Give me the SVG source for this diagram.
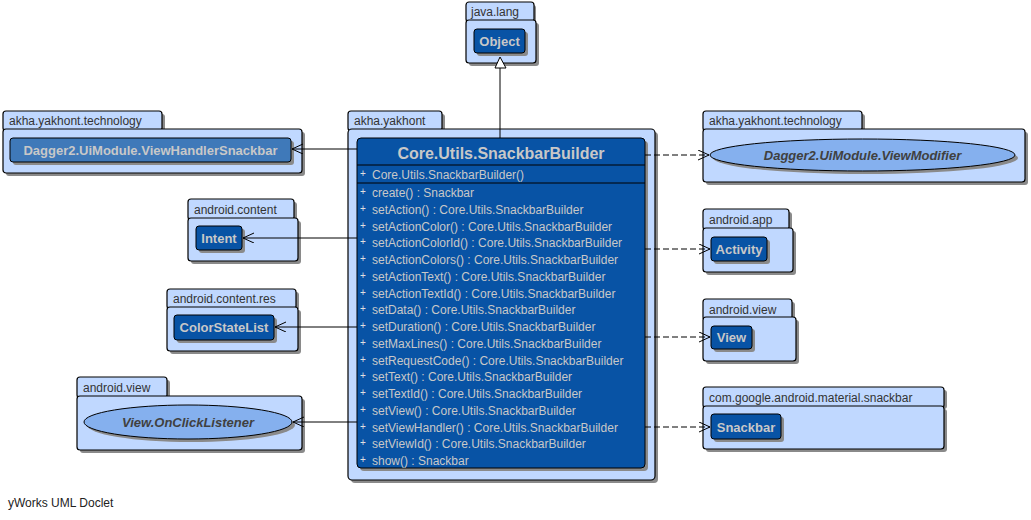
<svg xmlns="http://www.w3.org/2000/svg" width="1031" height="520" viewBox="0 0 1031 520">
<style>
text{font-family:"Liberation Sans",Arial,sans-serif}
.pk{fill:#c0d8ff;stroke:#000;stroke-width:1.2}
.sh{fill:#8a8a8a}
.pl{font-size:12px;fill:#333}
.cl{fill:#0853a5;stroke:#000;stroke-width:1}
.cl2{fill:#3f79b9;stroke:#000;stroke-width:1}
.cn{font-size:13px;font-weight:bold;fill:#c8c8c8;text-anchor:middle}
.el{fill:#85b0ee;stroke:#000;stroke-width:1}
.en{font-size:13px;font-weight:bold;font-style:italic;fill:#404040;text-anchor:middle}
.m{font-size:12px;fill:#c8c8c8}
.p{font-size:10px;fill:#e0e0e0}
.ln{stroke:#000;stroke-width:1;fill:none}
.ds{stroke:#000;stroke-width:1;fill:none;stroke-dasharray:6,3}
</style>
<defs>
<marker id="open" markerUnits="userSpaceOnUse" markerWidth="14" markerHeight="12" refX="11" refY="5" orient="auto">
<path d="M0,0 L11,5 L0,10" fill="none" stroke="#000" stroke-width="1"/>
</marker>
</defs>

<!-- java.lang -->
<g id="pkg-java-lang">
<rect class="sh" x="469" y="5" width="67" height="18" rx="3"/>
<rect class="sh" x="469" y="23" width="70" height="43" rx="3"/>
<rect class="pk" x="466" y="2" width="68" height="20" rx="3"/>
<rect class="pk" x="466" y="20" width="70" height="43" rx="3"/>
<text class="pl" x="471" y="16">java.lang</text>
<g id="node-object">
<rect class="sh" x="477" y="32" width="51" height="24" rx="3"/>
<rect class="cl" x="474" y="29" width="51" height="24" rx="3"/>
<text class="cn" x="499.5" y="46">Object</text>
</g>
</g>

<!-- akha.yakhont.technology (left) -->
<g id="pkg-tech-left">
<rect class="sh" x="6" y="114" width="159" height="18" rx="3"/>
<rect class="sh" x="6" y="132" width="299" height="44" rx="3"/>
<rect class="pk" x="3" y="111" width="159" height="20" rx="3"/>
<rect class="pk" x="3" y="129" width="299" height="44" rx="3"/>
<text class="pl" x="9" y="125">akha.yakhont.technology</text>
<g id="node-viewhandlersnackbar">
<rect class="sh" x="13" y="141" width="281" height="24" rx="3"/>
<rect class="cl2" x="10" y="138" width="281" height="24" rx="3"/>
<text class="cn" x="150.5" y="155">Dagger2.UiModule.ViewHandlerSnackbar</text>
</g>
</g>

<!-- android.content -->
<g id="pkg-android-content">
<rect class="sh" x="191" y="202" width="106" height="19" rx="3"/>
<rect class="sh" x="191" y="221" width="110" height="43" rx="3"/>
<rect class="pk" x="188" y="199" width="106" height="21" rx="3"/>
<rect class="pk" x="188" y="218" width="110" height="43" rx="3"/>
<text class="pl" x="194" y="214">android.content</text>
<g id="node-intent">
<rect class="sh" x="199" y="229" width="46" height="24" rx="3"/>
<rect class="cl" x="196" y="226" width="46" height="24" rx="3"/>
<text class="cn" x="219" y="243">Intent</text>
</g>
</g>

<!-- android.content.res -->
<g id="pkg-android-content-res">
<rect class="sh" x="170" y="292" width="129" height="18" rx="3"/>
<rect class="sh" x="170" y="310" width="131" height="44" rx="3"/>
<rect class="pk" x="167" y="289" width="129" height="20" rx="3"/>
<rect class="pk" x="167" y="307" width="131" height="44" rx="3"/>
<text class="pl" x="173" y="303">android.content.res</text>
<g id="node-colorstatelist">
<rect class="sh" x="177" y="318" width="100" height="25" rx="3"/>
<rect class="cl" x="174" y="315" width="100" height="25" rx="3"/>
<text class="cn" x="224" y="332">ColorStateList</text>
</g>
</g>

<!-- android.view (left) -->
<g id="pkg-android-view-left">
<rect class="sh" x="80" y="380" width="90" height="19" rx="3"/>
<rect class="sh" x="80" y="399" width="225" height="54" rx="3"/>
<rect class="pk" x="77" y="377" width="90" height="21" rx="3"/>
<rect class="pk" x="77" y="396" width="225" height="54" rx="3"/>
<text class="pl" x="83" y="392">android.view</text>
<g id="node-onclicklistener">
<ellipse class="sh" cx="191" cy="425" rx="104" ry="17"/>
<ellipse class="el" cx="188" cy="422" rx="104" ry="17"/>
<text class="en" x="188" y="427">View.OnClickListener</text>
</g>
</g>

<!-- akha.yakhont (main) -->
<g id="pkg-akha-yakhont">
<rect class="sh" x="351" y="114" width="94" height="18" rx="3"/>
<rect class="sh" x="351" y="132" width="307" height="351" rx="4"/>
<rect class="pk" x="348" y="111" width="94" height="20" rx="3"/>
<rect class="pk" x="348" y="129" width="307" height="351" rx="4"/>
<text class="pl" x="354" y="125">akha.yakhont</text>
<g id="node-snackbarbuilder">
<rect class="sh" x="360" y="141" width="288" height="330" rx="4"/>
<rect class="cl" x="357" y="138" width="288" height="330" rx="4"/>
<text x="501" y="159" style="font-size:16px;font-weight:bold;fill:#c8c8c8;text-anchor:middle">Core.Utils.SnackbarBuilder</text>
<line x1="357" y1="165" x2="645" y2="165" stroke="#000"/>
<line x1="357" y1="183" x2="645" y2="183" stroke="#000"/>
<text class="p" x="360" y="177">+</text>
<text class="m" x="372" y="179">Core.Utils.SnackbarBuilder()</text>
<g class="p">
<text x="360" y="195">+</text><text x="360" y="211.75">+</text><text x="360" y="228.5">+</text><text x="360" y="245.25">+</text><text x="360" y="262">+</text><text x="360" y="278.75">+</text><text x="360" y="295.5">+</text><text x="360" y="312.25">+</text><text x="360" y="329">+</text><text x="360" y="345.75">+</text><text x="360" y="362.5">+</text><text x="360" y="379.25">+</text><text x="360" y="396">+</text><text x="360" y="412.75">+</text><text x="360" y="429.5">+</text><text x="360" y="446.25">+</text><text x="360" y="463">+</text>
</g>
<g class="m">
<text x="372" y="197">create() : Snackbar</text>
<text x="372" y="213.75">setAction() : Core.Utils.SnackbarBuilder</text>
<text x="372" y="230.5">setActionColor() : Core.Utils.SnackbarBuilder</text>
<text x="372" y="247.25">setActionColorId() : Core.Utils.SnackbarBuilder</text>
<text x="372" y="264">setActionColors() : Core.Utils.SnackbarBuilder</text>
<text x="372" y="280.75">setActionText() : Core.Utils.SnackbarBuilder</text>
<text x="372" y="297.5">setActionTextId() : Core.Utils.SnackbarBuilder</text>
<text x="372" y="314.25">setData() : Core.Utils.SnackbarBuilder</text>
<text x="372" y="331">setDuration() : Core.Utils.SnackbarBuilder</text>
<text x="372" y="347.75">setMaxLines() : Core.Utils.SnackbarBuilder</text>
<text x="372" y="364.5">setRequestCode() : Core.Utils.SnackbarBuilder</text>
<text x="372" y="381.25">setText() : Core.Utils.SnackbarBuilder</text>
<text x="372" y="398">setTextId() : Core.Utils.SnackbarBuilder</text>
<text x="372" y="414.75">setView() : Core.Utils.SnackbarBuilder</text>
<text x="372" y="431.5">setViewHandler() : Core.Utils.SnackbarBuilder</text>
<text x="372" y="448.25">setViewId() : Core.Utils.SnackbarBuilder</text>
<text x="372" y="465">show() : Snackbar</text>
</g>
</g>
</g>

<!-- akha.yakhont.technology (right) -->
<g id="pkg-tech-right">
<rect class="sh" x="706" y="114" width="159" height="18" rx="3"/>
<rect class="sh" x="706" y="132" width="322" height="53" rx="3"/>
<rect class="pk" x="703" y="111" width="159" height="20" rx="3"/>
<rect class="pk" x="703" y="129" width="322" height="53" rx="3"/>
<text class="pl" x="709" y="125">akha.yakhont.technology</text>
<g id="node-viewmodifier">
<ellipse class="sh" cx="865.5" cy="158" rx="152.5" ry="16"/>
<ellipse class="el" cx="862.5" cy="155" rx="152.5" ry="16"/>
<text class="en" x="862.5" y="160">Dagger2.UiModule.ViewModifier</text>
</g>
</g>

<!-- android.app -->
<g id="pkg-android-app">
<rect class="sh" x="706" y="212" width="86" height="19" rx="3"/>
<rect class="sh" x="706" y="231" width="90" height="44" rx="3"/>
<rect class="pk" x="703" y="209" width="86" height="21" rx="3"/>
<rect class="pk" x="703" y="228" width="90" height="44" rx="3"/>
<text class="pl" x="709" y="224">android.app</text>
<g id="node-activity">
<rect class="sh" x="714" y="240" width="56" height="24" rx="3"/>
<rect class="cl" x="711" y="237" width="56" height="24" rx="3"/>
<text class="cn" x="739" y="254">Activity</text>
</g>
</g>

<!-- android.view (right) -->
<g id="pkg-android-view-right">
<rect class="sh" x="706" y="302" width="89" height="19" rx="3"/>
<rect class="sh" x="706" y="320" width="93" height="44" rx="3"/>
<rect class="pk" x="703" y="299" width="89" height="21" rx="3"/>
<rect class="pk" x="703" y="317" width="93" height="44" rx="3"/>
<text class="pl" x="709" y="314">android.view</text>
<g id="node-view">
<rect class="sh" x="714" y="329" width="41" height="23" rx="3"/>
<rect class="cl" x="711" y="326" width="41" height="23" rx="3"/>
<text class="cn" x="731.5" y="342">View</text>
</g>
</g>

<!-- com.google.android.material.snackbar -->
<g id="pkg-material-snackbar">
<rect class="sh" x="706" y="390" width="241" height="19" rx="3"/>
<rect class="sh" x="706" y="409" width="241" height="43" rx="3"/>
<rect class="pk" x="703" y="387" width="241" height="21" rx="3"/>
<rect class="pk" x="703" y="406" width="241" height="43" rx="3"/>
<text class="pl" x="709" y="402">com.google.android.material.snackbar</text>
<g id="node-snackbar">
<rect class="sh" x="714" y="417" width="70" height="25" rx="3"/>
<rect class="cl" x="711" y="414" width="70" height="25" rx="3"/>
<text class="cn" x="746" y="432">Snackbar</text>
</g>
</g>

<!-- connectors -->
<g id="connectors">
<line class="ln" x1="500" y1="138" x2="500" y2="68"/>
<path d="M495,68 L500,57 L506,68 Z" fill="#fff" stroke="#000" stroke-width="1"/>
<line class="ln" x1="357" y1="149" x2="292" y2="149" marker-end="url(#open)"/>
<line class="ln" x1="357" y1="238" x2="243" y2="238" marker-end="url(#open)"/>
<line class="ln" x1="357" y1="327" x2="275" y2="327" marker-end="url(#open)"/>
<line class="ln" x1="357" y1="422" x2="293" y2="422" marker-end="url(#open)"/>
<line class="ds" x1="645" y1="155" x2="709" y2="155" marker-end="url(#open)"/>
<line class="ds" x1="645" y1="249" x2="710" y2="249" marker-end="url(#open)"/>
<line class="ds" x1="645" y1="337" x2="710" y2="337" marker-end="url(#open)"/>
<line class="ds" x1="645" y1="427" x2="710" y2="427" marker-end="url(#open)"/>
</g>

<text x="8" y="507" style="font-size:12px;fill:#222">yWorks UML Doclet</text>
</svg>
